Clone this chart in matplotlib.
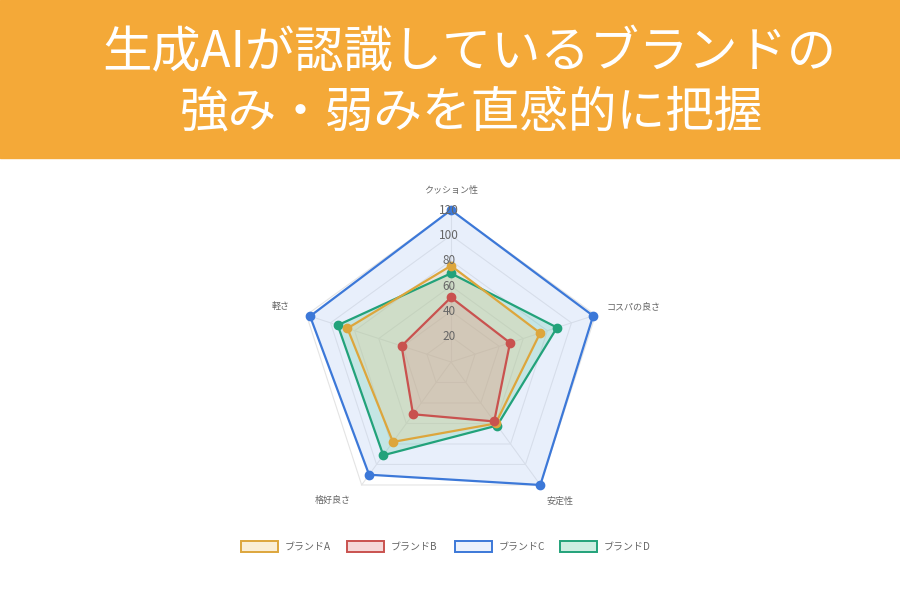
import numpy as np
import matplotlib
matplotlib.use("Agg")
import matplotlib.pyplot as plt
from matplotlib.patches import Rectangle, Polygon

plt.rcParams['font.family'] = ['Noto Sans CJK JP', 'DejaVu Sans']

# chart data
title_lines = ["生成AIが認識しているブランドの", "強み・弱みを直感的に把握"]
axes_labels = ["クッション性", "コスパの良さ", "安定性", "格好良さ", "軽さ"]
brands = ["ブランドA", "ブランドB", "ブランドC", "ブランドD"]
brand_a = [76, 74, 60, 78, 86]
brand_b = [51, 49, 58, 51, 41]
brand_c = [120, 118, 120, 110, 117]
brand_d = [70, 88, 62, 91, 94]
ticks = [20, 40, 60, 80, 100, 120]

colors = ["#DDA63C", "#C9524F", "#3C78D8", "#22A27A"]
fills = ["#F0C878", "#E08080", "#BFD3F6", "#5CC8A0"]
fill_alpha = [0.25, 0.22, 0.35, 0.25]

# layout in pixel space
cx, cy = 451, 362
rmax_px = 152
vmax = 120
n = len(axes_labels)
angles = np.pi / 2 - np.arange(n) * 2 * np.pi / n


def to_xy(vals):
    r = np.asarray(vals, dtype=float) / vmax * rmax_px
    return cx + r * np.cos(angles), cy - r * np.sin(angles)


fig = plt.figure(figsize=(9, 6), dpi=100)
ax = fig.add_axes([0, 0, 1, 1])
ax.set_xlim(0, 900)
ax.set_ylim(600, 0)
ax.axis('off')

# orange banner
ax.add_patch(Rectangle((0, 0), 900, 158, color="#F4A938", zorder=0))
ax.text(469, 53, title_lines[0], color="white", fontsize=35.5, ha="center", va="center")
ax.text(472, 113, title_lines[1], color="white", fontsize=35, ha="center", va="center")

# grid rings and spokes
for t in ticks:
    gx, gy = to_xy([t] * n)
    ax.add_patch(Polygon(np.column_stack([gx, gy]), closed=True, fill=False,
                         edgecolor="#e4e4e4", lw=0.8, zorder=1))
ox, oy = to_xy([vmax] * n)
for i in range(n):
    ax.plot([cx, ox[i]], [cy, oy[i]], color="#e4e4e4", lw=0.8, zorder=1)

# datasets, blue at the back
series = [brand_a, brand_b, brand_c, brand_d]
order = [2, 3, 0, 1]
for z, k in enumerate(order):
    px, py = to_xy(series[k])
    ax.add_patch(Polygon(np.column_stack([px, py]), closed=True, facecolor=fills[k],
                         alpha=fill_alpha[k], edgecolor="none", zorder=2 + z))
    ax.plot(np.append(px, px[0]), np.append(py, py[0]), color=colors[k], lw=1.6,
            zorder=6 + z)
    ax.plot(px, py, 'o', color=colors[k], ms=6, zorder=10 + z)

# tick labels along the top spoke
for t in ticks:
    ax.text(cx - 2, cy - t / vmax * rmax_px, str(t), fontsize=8.5, color="#666666",
            ha="center", va="center", zorder=20)

# axis labels
label_pos = [(451, 191, "center"), (607, 307, "left"), (560, 501, "center"),
             (333, 500, "center"), (290, 307, "right")]
for lab, (lx, ly, ha) in zip(axes_labels, label_pos):
    ax.text(lx, ly, lab, fontsize=6.5, color="#666666", ha=ha, va="center")

# legend
box_x = [241, 347, 455, 560]
for k in range(len(brands)):
    ax.add_patch(Rectangle((box_x[k], 541), 37, 11, facecolor=fills[k], alpha=0.3,
                           edgecolor="none"))
    ax.add_patch(Rectangle((box_x[k], 541), 37, 11, fill=False, edgecolor=colors[k],
                           lw=1.4))
    ax.text(box_x[k] + 44, 547, brands[k], fontsize=7.2, color="#666666",
            ha="left", va="center")

fig.savefig("out.png", dpi=100)
